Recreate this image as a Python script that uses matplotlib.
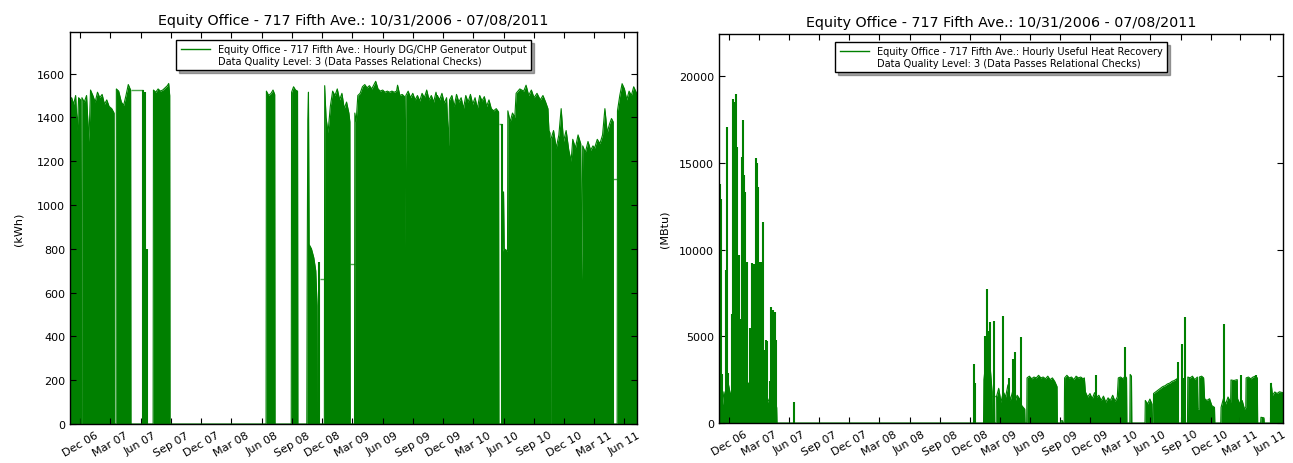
import numpy as np
import pandas as pd
import matplotlib
matplotlib.use("Agg")
import matplotlib.pyplot as plt
import matplotlib.dates as mdates
from matplotlib.lines import Line2D

# ---- DG/CHP generator output (kWh), upper envelope of the hourly trace ----
gen_dates = [
    "2006-10-31", "2006-11-05", "2006-11-11", "2006-11-17", "2006-11-22", "2006-11-26",
    "2006-12-02", "2006-12-03", "2006-12-05", "2006-12-06", "2006-12-13", "2006-12-20",
    "2006-12-27", "2007-01-01", "2007-01-08", "2007-01-15", "2007-01-22", "2007-01-29",
    "2007-02-05", "2007-02-12", "2007-02-19", "2007-02-26", "2007-03-06", "2007-03-13",
    "2007-03-14", "2007-03-19", "2007-03-20", "2007-03-27", "2007-04-04", "2007-04-11",
    "2007-04-18", "2007-04-25", "2007-05-02", "2007-05-03", "2007-07-09", "2007-07-10",
    "2007-07-17", "2007-07-24", "2007-07-31", "2007-08-07", "2007-08-14", "2007-08-21",
    "2007-08-25", "2007-08-28", "2007-08-29", "2008-06-14", "2008-06-15", "2008-06-22",
    "2008-06-29", "2008-07-05", "2008-07-10", "2008-07-11", "2008-08-29", "2008-08-30",
    "2008-09-05", "2008-09-11", "2008-09-17", "2008-09-18", "2008-10-15", "2008-10-16",
    "2008-10-18", "2008-10-20", "2008-10-22", "2008-10-29", "2008-11-05", "2008-11-11",
    "2008-11-15", "2008-11-16", "2008-12-07", "2008-12-08", "2008-12-12", "2008-12-18",
    "2008-12-25", "2009-01-01", "2009-01-08", "2009-01-15", "2009-01-22", "2009-01-29",
    "2009-02-05", "2009-02-12", "2009-02-19", "2009-02-22", "2009-02-23", "2009-03-08",
    "2009-03-09", "2009-03-13", "2009-03-18", "2009-03-25", "2009-04-01", "2009-04-08",
    "2009-04-15", "2009-04-22", "2009-04-29", "2009-05-06", "2009-05-11", "2009-05-18",
    "2009-05-25", "2009-06-01", "2009-06-08", "2009-06-15", "2009-06-22", "2009-06-29",
    "2009-07-06", "2009-07-13", "2009-07-16", "2009-07-23", "2009-07-30", "2009-08-06",
    "2009-08-08", "2009-08-10", "2009-08-17", "2009-08-24", "2009-08-31", "2009-09-07",
    "2009-09-14", "2009-09-21", "2009-09-28", "2009-10-05", "2009-10-12", "2009-10-19",
    "2009-10-26", "2009-11-02", "2009-11-09", "2009-11-11", "2009-11-12", "2009-11-13",
    "2009-11-20", "2009-11-27", "2009-12-04", "2009-12-11", "2009-12-17", "2009-12-20",
    "2009-12-27", "2010-01-03", "2010-01-10", "2010-01-17", "2010-01-24", "2010-01-31",
    "2010-02-07", "2010-02-14", "2010-02-21", "2010-02-28", "2010-03-07", "2010-03-14",
    "2010-03-21", "2010-03-28", "2010-04-04", "2010-04-11", "2010-04-18", "2010-04-25",
    "2010-05-02", "2010-05-10", "2010-05-17", "2010-05-18", "2010-05-26", "2010-05-27",
    "2010-05-30", "2010-06-01", "2010-06-03", "2010-06-13", "2010-06-14", "2010-06-21",
    "2010-06-28", "2010-07-05", "2010-07-09", "2010-07-20", "2010-08-01", "2010-08-08",
    "2010-08-16", "2010-08-24", "2010-09-01", "2010-09-10", "2010-09-20", "2010-09-28",
    "2010-10-06", "2010-10-13", "2010-10-16", "2010-10-19", "2010-10-20", "2010-10-21",
    "2010-10-22", "2010-10-30", "2010-11-07", "2010-11-15", "2010-11-22", "2010-11-29",
    "2010-12-07", "2010-12-15", "2010-12-22", "2010-12-27", "2011-01-04", "2011-01-12",
    "2011-01-20", "2011-01-23", "2011-01-26", "2011-02-03", "2011-02-11", "2011-02-19",
    "2011-02-26", "2011-03-03", "2011-03-11", "2011-03-19", "2011-03-27", "2011-04-03",
    "2011-04-10", "2011-04-17", "2011-04-23", "2011-04-28", "2011-04-29", "2011-05-10",
    "2011-05-11", "2011-05-18", "2011-05-25", "2011-06-01", "2011-06-08", "2011-06-15",
    "2011-06-22", "2011-06-29", "2011-07-08",
]
gen_kwh = [
    1480, 1490, 1460, 1500, 1340, 1490,
    1480, 0, 0, 1490, 1470, 1500,
    1290, 1525, 1500, 1470, 1515, 1490,
    1505, 1460, 1480, 1450, 1440, 1420,
    0, 0, 1530, 1520, 1470, 1455,
    1500, 1550, 1525, 0, 0, 1525,
    1515, 1530, 1520, 1525, 1535, 1545,
    1555, 1500, 0, 0, 1520, 1500,
    1510, 1525, 1505, 0, 0, 1515,
    1540, 1525, 1520, 0, 0, 620,
    1390, 1515, 820, 800, 760, 700,
    540, 0, 0, 1545, 1400, 1330,
    1450, 1520, 1500, 1530, 1480, 1510,
    1440, 1470, 1420, 1380, 0, 0,
    1420, 1380, 1500, 1510, 1540, 1550,
    1535, 1545, 1530, 1550, 1565, 1530,
    1520, 1525, 1515, 1520, 1515, 1520,
    1515, 1520, 1547, 1500, 1505, 1495,
    800, 1500, 1520, 1490, 1510, 1480,
    1500, 1475, 1510, 1490, 1525, 1480,
    1500, 1470, 1515, 1500, 0, 1500,
    1480, 1510, 1465, 1490, 1270, 1480,
    1500, 1450, 1505, 1470, 1490, 1440,
    1500, 1470, 1505, 1460, 1490, 1440,
    1500, 1475, 1495, 1450, 1480, 1440,
    1430, 1440, 1425, 0, 0, 800,
    790, 1060, 800, 790, 1430, 1380,
    1420, 1400, 1510, 1530, 1520, 1547,
    1500, 1525, 1490, 1510, 1480, 1500,
    1470, 1440, 1340, 1330, 0, 0,
    1300, 1340, 1260, 1320, 1440, 1290,
    1340, 1250, 1200, 1300, 1260, 1320,
    1280, 655, 1270, 1240, 1290, 1250,
    1270, 1260, 1300, 1280, 1320, 1440,
    1330, 1370, 1395, 1380, 0, 0,
    1430, 1500, 1554, 1530, 1480, 1520,
    1500, 1540, 1510,
]
# thin lines across gaps in the generator record
gen_link_start = ["2007-05-02", "2008-11-23", "2009-02-22", "2010-05-17", "2011-04-28"]
gen_link_end = ["2007-06-07", "2008-12-08", "2009-03-09", "2010-05-26", "2011-05-11"]
gen_link_kwh = [1525, 660, 730, 1368, 1120]
gen_spike_dates = ["2007-06-07", "2007-06-14", "2007-06-19", "2008-11-22", "2010-05-26"]
gen_spike_kwh = [1525, 1515, 800, 740, 1368]

# ---- useful heat recovery (MBtu) ----
heat_dates = [
    "2006-10-31", "2006-11-08", "2006-11-15", "2006-11-22", "2006-11-29", "2006-12-06",
    "2006-12-13", "2006-12-20", "2006-12-27", "2007-01-03", "2007-01-10", "2007-01-17",
    "2007-01-24", "2007-01-31", "2007-02-07", "2007-02-14", "2007-02-21", "2007-02-28",
    "2007-03-07", "2007-03-14", "2007-03-21", "2007-03-28", "2007-04-04", "2007-04-11",
    "2007-04-18", "2007-04-24", "2007-04-25", "2009-01-11", "2009-01-12", "2009-01-18",
    "2009-01-24", "2009-01-30", "2009-02-05", "2009-02-06", "2009-02-07", "2009-02-18",
    "2009-02-19", "2009-02-26", "2009-03-05", "2009-03-12", "2009-03-19", "2009-03-26",
    "2009-04-02", "2009-04-09", "2009-04-16", "2009-04-23", "2009-04-30", "2009-05-07",
    "2009-05-16", "2009-05-17", "2009-05-22", "2009-05-23", "2009-05-30", "2009-06-06",
    "2009-06-13", "2009-06-20", "2009-06-27", "2009-07-04", "2009-07-11", "2009-07-18",
    "2009-07-25", "2009-08-01", "2009-08-08", "2009-08-15", "2009-08-22", "2009-08-23",
    "2009-09-02", "2009-09-03", "2009-09-08", "2009-09-09", "2009-09-13", "2009-09-14",
    "2009-09-21", "2009-09-28", "2009-10-05", "2009-10-12", "2009-10-19", "2009-10-26",
    "2009-11-02", "2009-11-09", "2009-11-13", "2009-11-16", "2009-11-23", "2009-11-30",
    "2009-12-07", "2009-12-14", "2009-12-21", "2009-12-27", "2010-01-03", "2010-01-10",
    "2010-01-17", "2010-01-24", "2010-01-31", "2010-02-07", "2010-02-14", "2010-02-21",
    "2010-02-24", "2010-03-03", "2010-03-10", "2010-03-17", "2010-03-21", "2010-03-22",
    "2010-03-31", "2010-04-01", "2010-04-05", "2010-04-06", "2010-05-16", "2010-05-17",
    "2010-05-24", "2010-05-31", "2010-06-06", "2010-06-07", "2010-06-10", "2010-06-11",
    "2010-06-18", "2010-06-25", "2010-07-02", "2010-07-09", "2010-07-16", "2010-07-23",
    "2010-07-30", "2010-08-06", "2010-08-13", "2010-08-21", "2010-08-22", "2010-09-22",
    "2010-09-23", "2010-09-30", "2010-10-07", "2010-10-14", "2010-10-22", "2010-10-23",
    "2010-10-27", "2010-10-28", "2010-11-04", "2010-11-10", "2010-11-13", "2010-11-20",
    "2010-11-28", "2010-12-05", "2010-12-13", "2010-12-14", "2011-01-01", "2011-01-02",
    "2011-01-09", "2011-01-16", "2011-01-23", "2011-01-31", "2011-02-01", "2011-02-10",
    "2011-02-20", "2011-02-21", "2011-02-28", "2011-03-07", "2011-03-14", "2011-03-18",
    "2011-03-19", "2011-03-26", "2011-04-02", "2011-04-09", "2011-04-16", "2011-04-22",
    "2011-04-23", "2011-05-02", "2011-05-03", "2011-05-12", "2011-05-13", "2011-06-02",
    "2011-06-03", "2011-06-07", "2011-06-14", "2011-06-21", "2011-06-28", "2011-07-08",
]
heat_mbtu = [
    1200, 600, 1800, 1000, 2200, 1500,
    2600, 2200, 2800, 2000, 2500, 1800,
    2400, 2200, 2400, 2000, 2300, 1800,
    2000, 1600, 1800, 1200, 1500, 1000,
    1300, 900, 0, 0, 2500, 3500,
    3000, 3500, 2000, 1800, 0, 0,
    1500, 2000, 1200, 1800, 1500, 2200,
    1300, 1800, 1200, 1600, 1400, 1000,
    800, 0, 0, 2600, 2700, 2550,
    2650, 2600, 2750, 2600, 2650, 2550,
    2700, 2500, 2600, 2400, 2100, 0,
    0, 130, 130, 0, 0, 2600,
    2750, 2600, 2650, 2500, 2700, 2600,
    2650, 2550, 2600, 1800, 1500, 1700,
    1400, 1750, 1500, 1600, 1300, 1550,
    1200, 1450, 1300, 1600, 1250, 1500,
    2600, 2650, 2550, 2700, 2600, 0,
    0, 2800, 2700, 0, 0, 1300,
    1100, 1380, 1100, 0, 0, 1700,
    1800, 1900, 2000, 2100, 2150, 2250,
    2300, 2400, 2450, 2550, 0, 0,
    2650, 2600, 2700, 2500, 2650, 800,
    800, 2650, 2700, 2600, 1400, 1300,
    1400, 1000, 900, 0, 0, 900,
    1400, 1100, 1500, 1200, 2480, 2450,
    2500, 1400, 1100, 1300, 800, 900,
    2600, 2650, 2550, 2650, 2700, 2600,
    0, 0, 330, 300, 0, 0,
    2290, 1600, 1790, 1700, 1800, 1750,
]
heat_spike_dates = [
    "2006-11-03", "2006-11-06", "2006-11-09", "2006-11-20", "2006-11-24", "2006-11-27",
    "2006-12-10", "2006-12-13", "2006-12-20", "2006-12-23", "2006-12-26", "2006-12-30",
    "2007-01-04", "2007-01-09", "2007-01-12", "2007-01-16", "2007-01-19", "2007-01-24",
    "2007-02-01", "2007-02-08", "2007-02-14", "2007-02-19", "2007-02-23", "2007-02-26",
    "2007-03-03", "2007-03-08", "2007-03-13", "2007-03-19", "2007-03-24", "2007-03-27",
    "2007-04-03", "2007-04-08", "2007-04-13", "2007-04-18", "2007-04-22", "2007-06-15",
    "2008-12-14", "2008-12-16", "2009-01-14", "2009-01-20", "2009-01-26", "2009-01-31",
    "2009-02-12", "2009-03-10", "2009-03-28", "2009-04-10", "2009-04-16", "2009-05-04",
    "2009-12-18", "2010-03-15", "2010-08-24", "2010-09-06", "2010-09-10", "2010-09-16",
    "2011-01-12", "2011-03-03", "2011-04-17", "2011-06-03",
]
heat_spike_mbtu = [
    13800, 12900, 2800, 8800, 17050, 2900,
    6300, 18700, 18500, 18970, 15900, 9700,
    6000, 15340, 17500, 14300, 13300, 9300,
    5500, 9200, 9170, 15300, 15000, 13600,
    9300, 9300, 11600, 4200, 4800, 4700,
    2400, 6700, 6500, 6400, 4800, 1200,
    3400, 2300, 5000, 7730, 5300, 5820,
    5900, 6190, 2600, 3700, 4090, 4960,
    2750, 4365, 3500, 4560, 2600, 6100,
    5700, 2750, 2750, 2290,
]
heat_link_start = ["2009-02-06"]
heat_link_end = ["2009-02-19"]
heat_link_mbtu = [1570]

title = "Equity Office - 717 Fifth Ave.: 10/31/2006 - 07/08/2011"
gen_label = "Equity Office - 717 Fifth Ave.: Hourly DG/CHP Generator Output"
heat_label = "Equity Office - 717 Fifth Ave.: Hourly Useful Heat Recovery"
quality_label = "Data Quality Level: 3 (Data Passes Relational Checks)"

green = "#008000"
W, H = 1293, 464

fig = plt.figure(figsize=(W / 100, H / 100), dpi=100)
ax1 = fig.add_axes([70 / W, 39 / H, 567 / W, 392 / H])
ax2 = fig.add_axes([719 / W, 40 / H, 564 / W, 389 / H])


def draw(ax, dates, vals, link_s, link_e, link_v, sp_d, sp_v):
    d = pd.to_datetime(dates)
    ax.fill_between(d, 0, vals, color=green, lw=0)
    ax.plot(d, vals, color=green, lw=0.8)
    ax.hlines(link_v, pd.to_datetime(link_s), pd.to_datetime(link_e),
              color=green, lw=1.0, alpha=0.7)
    ax.vlines(pd.to_datetime(sp_d), 0, sp_v, color=green, lw=1.5)


draw(ax1, gen_dates, gen_kwh, gen_link_start, gen_link_end, gen_link_kwh,
     gen_spike_dates, gen_spike_kwh)
draw(ax2, heat_dates, heat_mbtu, heat_link_start, heat_link_end, heat_link_mbtu,
     heat_spike_dates, heat_spike_mbtu)

xmin, xmax = pd.Timestamp("2006-10-31"), pd.Timestamp("2011-07-08 23:00")
ax1.set_ylim(0, 1790)
ax1.set_yticks(range(0, 1601, 200))
ax1.set_ylabel("(kWh)", fontsize=8, labelpad=10)
ax2.set_ylim(0, 22430)
ax2.set_yticks(range(0, 20001, 5000))
ax2.set_ylabel("(MBtu)", fontsize=8, labelpad=7)

for ax, lab in [(ax1, gen_label), (ax2, heat_label)]:
    ax.set_xlim(xmin, xmax)
    ax.xaxis.set_major_locator(mdates.MonthLocator(bymonth=(3, 6, 9, 12)))
    ax.xaxis.set_major_formatter(mdates.DateFormatter("%b %y"))
    ax.tick_params(direction="in", length=4, top=True, right=True, labelsize=8)
    ax.tick_params(axis="x", pad=4)
    for t in ax.get_xticklabels():
        t.set_rotation(30)
        t.set_ha("center")
    for s in ax.spines.values():
        s.set_color("black")
        s.set_linewidth(1)
    ax.set_title(title, fontsize=10.3, pad=6)
    handles = [Line2D([], [], color=green, lw=1), Line2D([], [], color="none")]
    leg = ax.legend(handles, [lab, quality_label], loc="upper center", fontsize=7,
                    shadow=True, fancybox=False, framealpha=1, labelspacing=0.15,
                    handlelength=3, handletextpad=0.8, borderaxespad=0.8,
                    borderpad=0.45)
    leg.get_frame().set_edgecolor("black")
    leg.get_frame().set_linewidth(1)

fig.savefig("out.png", dpi=100)
